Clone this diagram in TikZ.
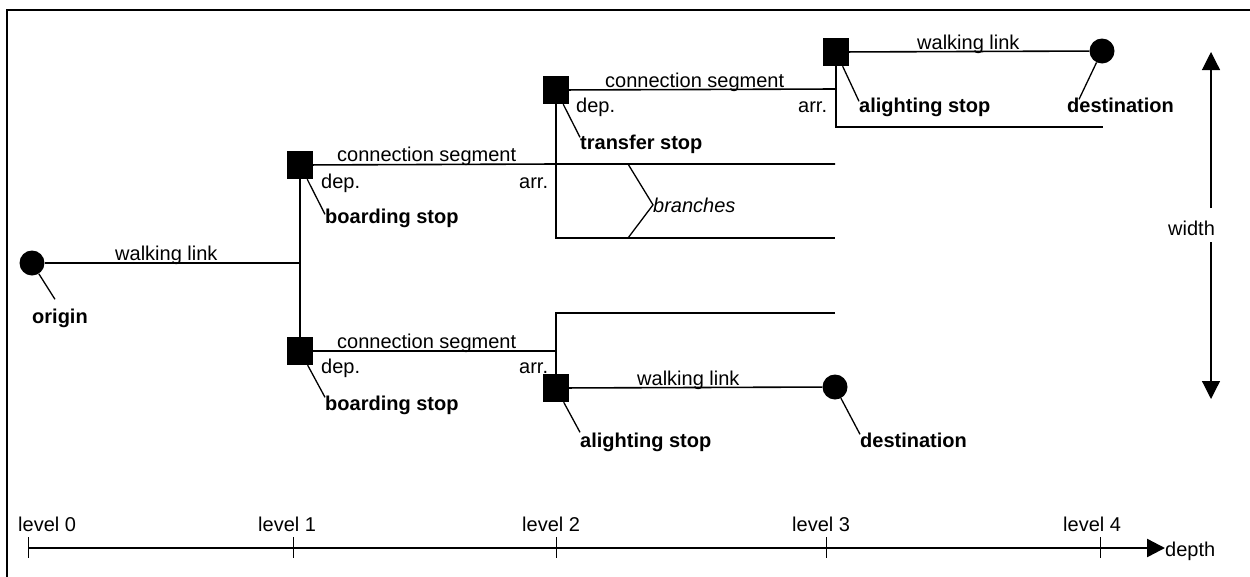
\documentclass[tikz,border=0pt]{standalone}
\usepackage{fontspec}
\setmainfont{Liberation Sans}
\usetikzlibrary{arrows.meta}
\begin{document}
\begin{tikzpicture}[x=1pt,y=-1pt,
  link/.style={line width=1.6pt},
  leader/.style={line width=1.3pt},
  stopbox/.style={fill=black, minimum width=26pt, minimum height=28pt, inner sep=0pt},
  endpt/.style={circle, fill=black, minimum size=25pt, inner sep=0pt},
  txt/.style={font=\fontsize{20}{22}\selectfont, inner sep=0pt, anchor=base west},
  btxt/.style={txt, font=\fontsize{20}{22}\selectfont\bfseries},
  itxt/.style={txt, font=\fontsize{20}{22}\selectfont\itshape},
  tip/.style={-{Triangle[length=18pt,width=18pt]}},
  tick/.style={line width=1pt}]
\useasboundingbox (0,0) rectangle (1250,576);

% frame
\draw[line width=2.2pt] (7,580) -- (7,10) -- (1254,10);

% stops and end points
\node[endpt]   (o)  at (32,263)   {};
\node[stopbox] (b1) at (300,165)  {};
\node[stopbox] (b2) at (300,351)  {};
\node[stopbox] (t)  at (556,90)   {};
\node[stopbox] (s1) at (836,52)   {};
\node[endpt]   (d1) at (1102,51)  {};
\node[stopbox] (s2) at (556,388)  {};
\node[endpt]   (d2) at (835,387)  {};

% junctions and branch ends
\coordinate (j1)  at (300,263);
\coordinate (a1)  at (556,164);
\coordinate (e1)  at (835,164);
\coordinate (k1)  at (556,238);
\coordinate (e2)  at (835,238);
\coordinate (a2)  at (836,89);
\coordinate (k2)  at (836,127);
\coordinate (e3)  at (1103,127);
\coordinate (a3)  at (556,351);
\coordinate (k3)  at (556,313);
\coordinate (e4)  at (835,313);

% links
\draw[link] (o) -- (j1);
\draw[link] (b1) -- (b2);
\draw[link] (b1) -- (a1) -- (e1);
\draw[link] (t) -- (k1) -- (e2);
\draw[link] (t) -- (a2);
\draw[link] (s1) -- (k2) -- (e3);
\draw[link] (s1) -- (d1);
\draw[link] (b2) -- (a3);
\draw[link] (e4) -- (k3) -- (s2);
\draw[link] (s2) -- (d2);

% link labels
\node[txt] (wl1) at (115,260) {walking link};
\node[txt] (wl2) at (917,49)  {walking link};
\node[txt] (wl3) at (637,385) {walking link};
\node[txt] (cs1) at (337,161) {connection segment};
\node[txt] (cs2) at (605,87)  {connection segment};
\node[txt] (cs3) at (337,348) {connection segment};
\node[txt] (dp1) at (321,188) {dep.};
\node[txt] (ar1) at (519,188) {arr.};
\node[txt] (dp2) at (576,112) {dep.};
\node[txt] (ar2) at (798,112) {arr.};
\node[txt] (dp3) at (321,373) {dep.};
\node[txt] (ar3) at (519,373) {arr.};

% stop labels
\node[btxt] (lo)  at (32,323)   {origin};
\node[btxt] (lb1) at (325,223)  {boarding stop};
\node[btxt] (lb2) at (325,410)  {boarding stop};
\node[btxt] (lt)  at (580,149)  {transfer stop};
\node[btxt] (ls1) at (859,112)  {alighting stop};
\node[btxt] (ld1) at (1067,112) {destination};
\node[btxt] (ls2) at (580,447)  {alighting stop};
\node[btxt] (ld2) at (860,447)  {destination};

% leaders
\draw[leader] (o)  -- ([xshift=-5pt,yshift=9pt]lo.north);
\draw[leader] (b1) -- ([yshift=-6pt]lb1.north west);
\draw[leader] (b2) -- ([yshift=-2pt]lb2.north west);
\draw[leader] (t)  -- ([yshift=-3pt]lt.north west);
\draw[leader] (s1) -- ([yshift=-4pt]ls1.north west);
\draw[leader] (d1) -- ([xshift=12pt,yshift=-2pt]ld1.north west);
\draw[leader] (s2) -- ([yshift=0pt]ls2.north west);
\draw[leader] (d2) -- ([yshift=-2pt]ld2.north west);

% branches bracket
\node[itxt] (br) at (653,212) {branches};
\coordinate (br1) at (628,164);
\coordinate (br2) at (628,238);
\draw[leader] (br1) -- (br.west) -- (br2);

% width arrow
\node[txt] (wd) at (1168,235) {width};
\coordinate (wtop) at (1211,52);
\coordinate (wbot) at (1211,399);
\coordinate (wu) at (1211,208);
\coordinate (wl) at (1211,242);
\draw[line width=1.2pt, tip] (wu) -- (wtop);
\draw[line width=1.2pt, tip] (wl) -- (wbot);

% depth axis
\node[txt] (dep) at (1165,556) {depth};
\coordinate (ax0) at (28,548);
\draw[line width=2.4pt, tip] (ax0) -- (dep.west |- ax0);
\foreach \x/\lx/\n in {28/18/0, 293/258/1, 556/522/2, 826/792/3, 1100/1063/4}{
  \draw[tick] (\x,537) -- (\x,558);
  \node[txt] (lv\n) at (\lx,531) {level \n};
}
\end{tikzpicture}
\end{document}
